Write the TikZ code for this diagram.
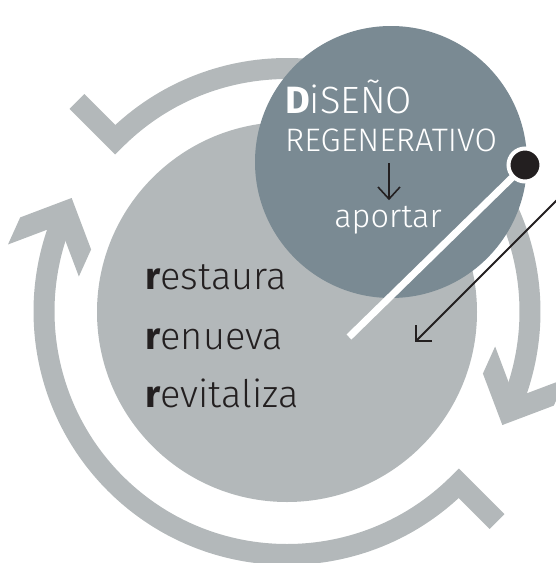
\documentclass[tikz,border=0pt]{standalone}
\usepackage{fontspec}
\setmainfont{Fira Sans Light}[BoldFont={Fira Sans Bold}]
\definecolor{ringgray}{HTML}{B3B8BA}
\definecolor{darkcirc}{HTML}{7A8A93}
\definecolor{ink}{HTML}{231F20}
\tikzset{
  ringstroke/.style={draw=ringgray, line width=21pt, line join=miter, line cap=butt},
  ringhead/.pic={\fill[ringgray] (14.85,0) -- (-24.05,38.9) -- (-53.75,38.9) -- (-14.85,0) -- (-53.75,-38.9) -- (-24.05,-38.9) -- cycle;},
  whitetext/.style={text=white, inner sep=0pt, font=\fontsize{32.5}{33}\selectfont},
  wordtext/.style={text=ink, inner sep=0pt, anchor=base west, font=\fontsize{38}{38}\selectfont},
  inkline/.style={draw=ink, line width=1.8pt, line join=miter}
}
\begin{document}
\begin{tikzpicture}[x=1pt,y=1pt]
\useasboundingbox (0,0) rectangle (556,-563);
\clip (0,0) rectangle (556,-563);
% ring arrows
\begin{scope}[shift={(287,-311.5)}]
  \draw[ringstroke] (135:297pt) -- (135:243pt) arc[start angle=135, end angle=-24.3, radius=243pt];
  \pic[rotate=-114.3] at (-24.3:243pt) {ringhead};
  \draw[ringstroke] (-45:297pt) -- (-45:243pt) arc[start angle=-45, end angle=-204.3, radius=243pt];
  \pic[rotate=65.7] at (-204.3:243pt) {ringhead};
\end{scope}
% circles
\node[circle, fill=ringgray, minimum size=380pt, inner sep=0pt] (big) at (287,-312) {};
\node[circle, fill=darkcirc, minimum size=272pt, inner sep=0pt] (dark) at (391,-162) {};
% texts in dark circle
\node[whitetext, anchor=base west, font=\fontsize{38}{38}\selectfont] (dis) at (285,-113) {\textbf{D}iSEÑO};
\node[whitetext, anchor=base west] (reg) at (285,-151) {REGENERATIVO};
\node[whitetext, anchor=base] (apo) at (388,-227) {aportar};
\coordinate (dtop) at (389,-163);
\coordinate (dtip) at (389,-199);
\draw[inkline, line width=1.6pt] (dtop) -- (dtip);
\draw[inkline, line width=1.6pt] (dtip) ++(-11,12) -- (dtip) -- ++(11,12);
% words
\node[wordtext] (w1) at (145,-289) {\textbf{r}estaura};
\node[wordtext] (w2) at (145,-349) {\textbf{r}enueva};
\node[wordtext] (w3) at (145,-407) {\textbf{r}evitaliza};
% white pointer line and dot
\coordinate (dotc) at (525,-165);
\coordinate (wend) at (349,-337);
\draw[white, line width=7pt] (dotc) -- (wend);
\node[circle, fill=ink, draw=white, line width=4pt, minimum size=33pt, inner sep=0pt] (dot) at (dotc) {};
% black arrow
\coordinate (astart) at (572,-185);
\coordinate (atip) at (416,-341);
\draw[inkline] (astart) -- (atip);
\draw[inkline] (atip) ++(16,0) -- (atip) -- ++(0,16);
\end{tikzpicture}
\end{document}
